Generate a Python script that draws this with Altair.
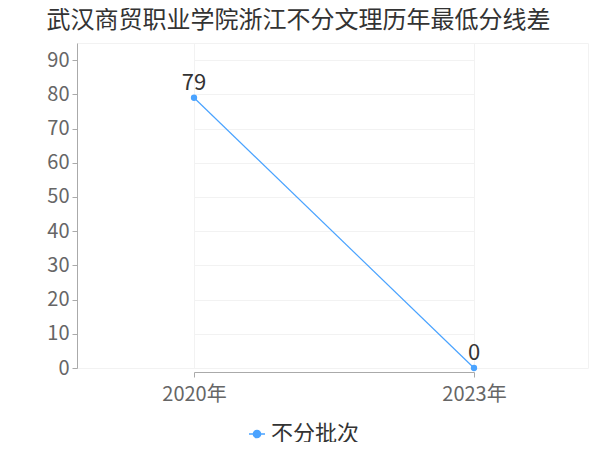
import altair as alt
import pandas as pd

years = ["2020年", "2023年"]
values = [79, 0]
series = ["不分批次", "不分批次"]

df = pd.DataFrame({"year": years, "value": values, "series": series})

FONT = "Noto Sans CJK SC"
BLUE = "#4aa3ff"
LEG_SYMBOL = "M-1,0H-0.45M0.45,0H1M-0.45,0A0.45,0.45,0,1,1,0.45,0A0.45,0.45,0,1,1,-0.45,0Z"

base = alt.Chart(df).encode(
    x=alt.X("year:N", sort=years,
            scale=alt.Scale(type="point", padding=0, range=[117, 397]),
            axis=alt.Axis(title=None, labelAngle=0, labelFontSize=20, labelColor="#666",
                          labelFont=FONT, labelPadding=7, domainColor="#aaa", tickColor="#aaa",
                          tickSize=5, offset=4, grid=True, gridColor="#f2f2f2")),
    y=alt.Y("value:Q", scale=alt.Scale(domain=[0, 95], nice=False),
            axis=alt.Axis(title=None, values=list(range(0, 100, 10)), labelFontSize=20,
                          labelColor="#666", labelFont=FONT, domainColor="#aaa",
                          tickColor="#aaa", tickSize=5, labelPadding=3,
                          grid=True, gridColor="#f2f2f2")),
)

line = base.mark_line(color=BLUE, strokeWidth=1.2).encode(
    color=alt.Color("series:N", scale=alt.Scale(range=[BLUE]),
                    legend=alt.Legend(title=None, orient="none", legendX=169, legendY=380,
                                      labelFontSize=22, labelFont=FONT, labelColor="#333",
                                      labelOffset=3,
                                      symbolType=LEG_SYMBOL, symbolStrokeWidth=1.5,
                                      symbolSize=256, symbolFillColor=BLUE,
                                      symbolStrokeColor=BLUE)),
)
points = base.mark_circle(color=BLUE, size=40, opacity=1)
labels = base.mark_text(dy=-15, fontSize=22, font=FONT, color="#333").encode(text="value:Q")

chart = alt.layer(line, points, labels).properties(
    width=511, height=325,
    title=alt.TitleParams("武汉商贸职业学院浙江不分文理历年最低分线差", fontSize=24, font=FONT,
                          color="#333", fontWeight="normal", anchor="middle", dx=-34, offset=10),
    autosize=alt.AutoSizeParams(type="none"),
    padding={"left": 69, "top": 35, "right": 4, "bottom": 74},
).configure_view(stroke="#f2f2f2")

chart.save("out.html", embed_options={"renderer": "svg", "actions": False})
